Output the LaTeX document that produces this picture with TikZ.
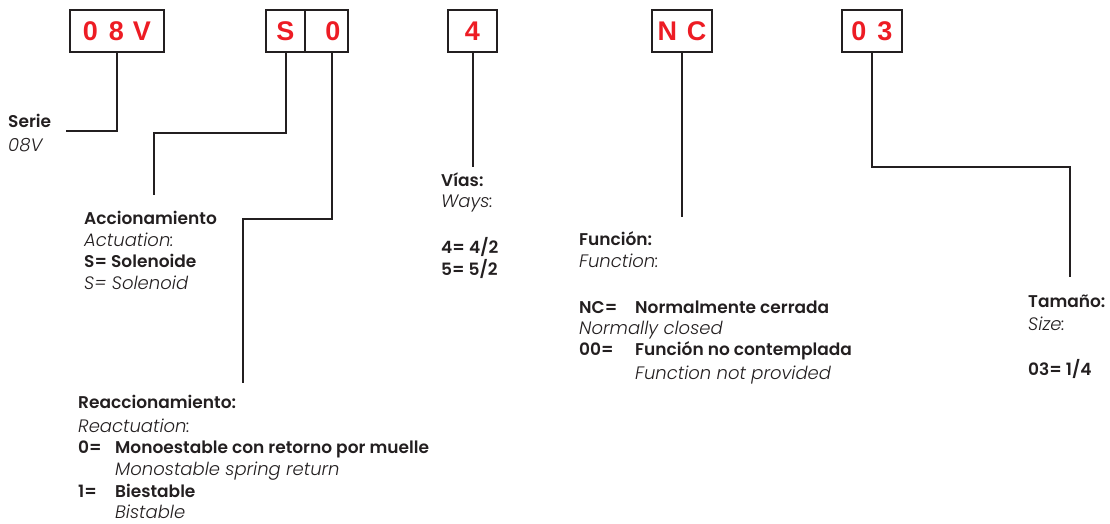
\documentclass[tikz,border=0pt]{standalone}
\usepackage{fontspec}
\setmainfont{Poppins}[BoldFont={* SemiBold}, ItalicFont={* Light Italic}]
\newfontfamily\boxfont{Liberation Sans}
\definecolor{codered}{RGB}{237,28,36}
\definecolor{ink}{RGB}{35,31,32}
\begin{document}
\begin{tikzpicture}[x=1pt,y=-1pt,
  codebox/.style={draw=ink, line width=2.6pt, minimum height=42pt, inner sep=0pt,
    font=\boxfont\bfseries\fontsize{27}{27}\selectfont, text=codered},
  lead/.style={draw=ink, line width=2pt},
  lbl/.style={anchor=base west, inner sep=0pt, text=ink, font=\fontsize{17}{17}\selectfont\bfseries},
  sub/.style={anchor=base west, inner sep=0pt, text=ink, font=\fontsize{18}{18}\selectfont\itshape}]
\useasboundingbox (0,0) rectangle (1110,524);

% code boxes
\node[codebox, minimum width=94pt] (b08) at (117,31) {0\hspace{11pt}8\hspace{9pt}V};
\node[codebox, minimum width=39pt] (bS) at (285.5,31) {S\hspace{11pt}};
\node[codebox, minimum width=43pt] (b0) at (326.5,31) {\hspace{13pt}0};
\node[codebox, minimum width=49pt] (b4) at (472.5,31) {4};
\node[codebox, minimum width=60pt] (bNC) at (682,31) {N\hspace{10pt}C};
\node[codebox, minimum width=60pt] (b03) at (872,31) {0\hspace{11pt}3\hspace{5pt}};

% free ends
\coordinate (cserie) at (66,131);
\coordinate (cs1) at (154,133);
\coordinate (cs2) at (154,195);
\coordinate (cr1) at (243,219);
\coordinate (cr2) at (243,383);
\coordinate (cv) at (472.5,167);
\coordinate (cf) at (682,217);
\coordinate (ct1) at (1070,167);
\coordinate (ct2) at (1070,277);

% connectors
\draw[lead] (b08.south) |- (cserie);
\draw[lead] (bS.south) |- (cs1) -- (cs2);
\draw[lead] ([xshift=5.5pt]b0.south) |- (cr1) -- (cr2);
\draw[lead] (b4.south) -- (cv);
\draw[lead] (bNC.south) -- (cf);
\draw[lead] (b03.south) |- (ct1) -- (ct2);

% Serie
\node[lbl] (serie) at (8,128) {Serie};
\node[sub] (serie2) at (8,151) {08V};

% Accionamiento
\node[lbl] (acc) at (84,224) {Accionamiento};
\node[sub] (acc2) at (84,246) {Actuation:};
\node[lbl] (acc3) at (84,267) {S= Solenoide};
\node[sub] (acc4) at (84,289) {S= Solenoid};

% Reaccionamiento
\node[lbl] (rea) at (78,408) {Reaccionamiento:};
\node[sub] (rea2) at (78,432) {Reactuation:};
\node[lbl] (rea3) at (78,453) {0=};
\node[lbl] (rea4) at (115,453) {Monoestable con retorno por muelle};
\node[sub] (rea5) at (115,475) {Monostable spring return};
\node[lbl] (rea6) at (78,497) {1=};
\node[lbl] (rea7) at (115,497) {Biestable};
\node[sub] (rea8) at (115,518) {Bistable};

% Vias
\node[lbl] (via) at (441,186) {Vías:};
\node[sub] (via2) at (441,207) {Ways:};
\node[lbl] (via3) at (441,253) {4= 4/2};
\node[lbl] (via4) at (441,275) {5= 5/2};

% Funcion
\node[lbl] (fun) at (579,245) {Función:};
\node[sub] (fun2) at (579,267) {Function:};
\node[lbl] (fun3) at (579,313) {NC=};
\node[lbl] (fun4) at (635,313) {Normalmente cerrada};
\node[sub] (fun5) at (579,334) {Normally closed};
\node[lbl] (fun6) at (579,355) {00=};
\node[lbl] (fun7) at (635,355) {Función no contemplada};
\node[sub] (fun8) at (635,379) {Function not provided};

% Tamano
\node[lbl] (tam) at (1028,307) {Tamaño:};
\node[sub] (tam2) at (1028,330) {Size:};
\node[lbl] (tam3) at (1028,375) {03= 1/4};
\end{tikzpicture}
\end{document}
